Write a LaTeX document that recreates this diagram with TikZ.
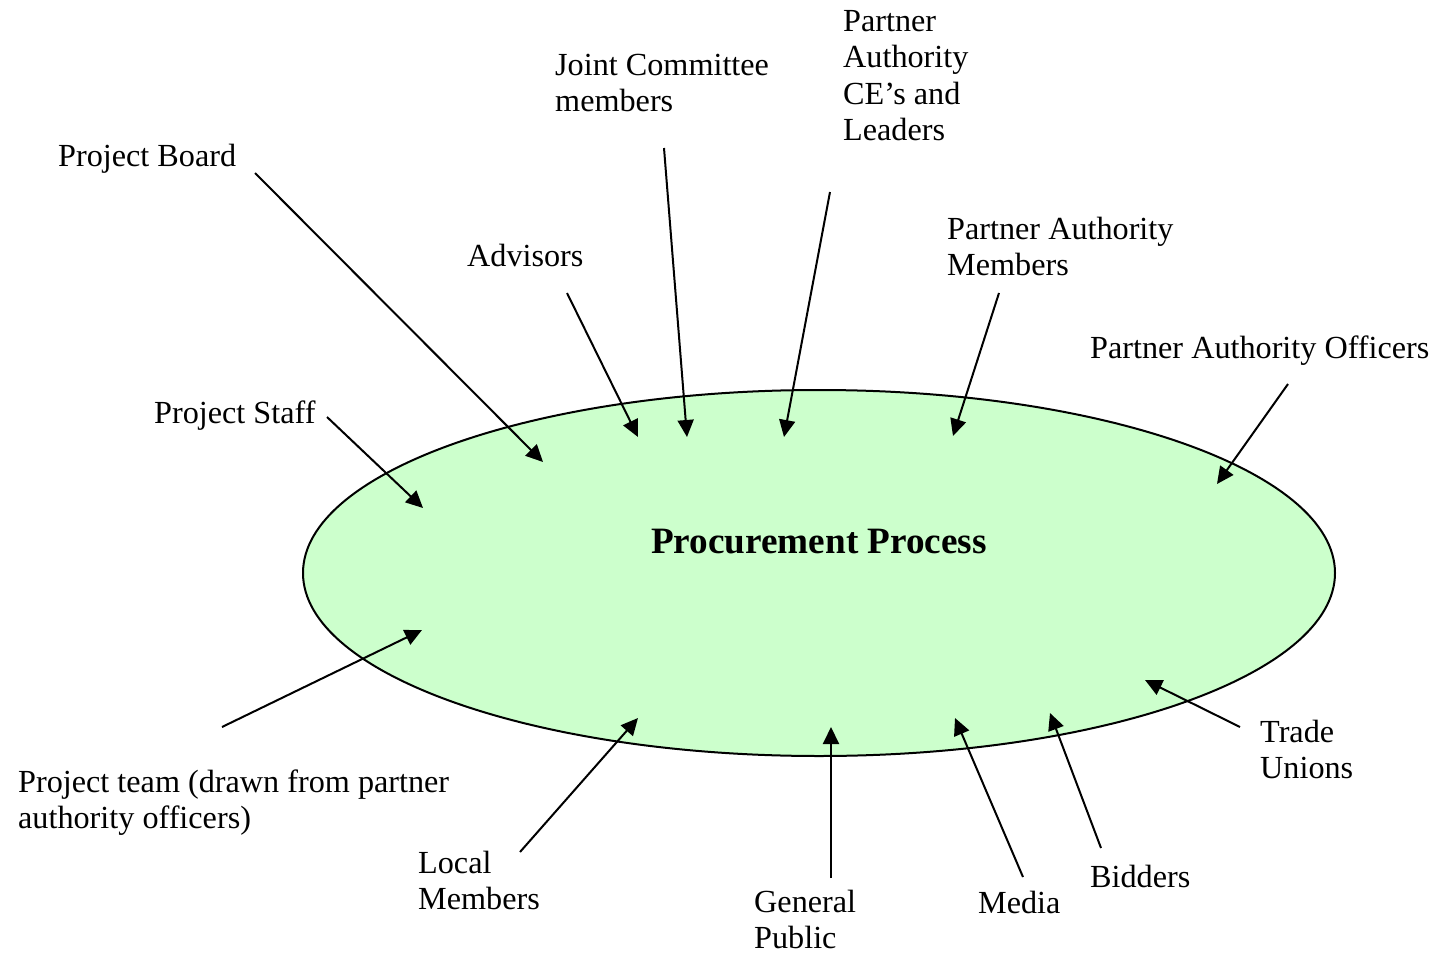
\documentclass[tikz,border=0pt]{standalone}
\usepackage{fontspec}
\setmainfont{Liberation Serif}
\usetikzlibrary{arrows.meta,shapes.geometric}
\definecolor{procgreen}{HTML}{CCFFCC}
\newcommand\mylines[1]{\begin{tabular}[t]{@{}l@{}}#1\end{tabular}}
\begin{document}
\begin{tikzpicture}[x=1pt,y=-1pt,
  lbl/.style={anchor=base west,inner sep=0pt,font=\fontsize{32.2}{36.5}\selectfont},
  arr/.style={line width=2pt,-{Triangle[length=17pt,width=16pt]}}]
\useasboundingbox (0,0) rectangle (1441,953);
\node[draw=black,line width=2pt,fill=procgreen,ellipse,minimum width=1032pt,minimum height=366pt,inner sep=0pt] (proc) at (819,573) {};
\node[anchor=center,inner sep=0pt,font=\fontsize{37.2}{42}\selectfont\bfseries] (proct) at (819,542) {Procurement Process};
% labels
\node[lbl] (board) at (58,166) {Project Board};
\node[lbl] (joint) at (555,75) {\mylines{Joint Committee\\members}};
\node[lbl] (ce) at (843,31) {\mylines{Partner\\Authority\\CE’s and\\Leaders}};
\node[lbl] (adv) at (467,266) {Advisors};
\node[lbl] (pam) at (947,239) {\mylines{Partner Authority\\Members}};
\node[lbl] (pao) at (1090,358) {Partner Authority Officers};
\node[lbl] (staff) at (154,423) {Project Staff};
\node[lbl] (team) at (18,792) {\mylines{Project team (drawn from partner\\authority officers)}};
\node[lbl] (local) at (418,873) {\mylines{Local\\Members}};
\node[lbl] (gen) at (754,912) {\mylines{General\\Public}};
\node[lbl] (media) at (978,913) {Media};
\node[lbl] (bid) at (1090,887) {Bidders};
\node[lbl] (trade) at (1260,742) {\mylines{Trade\\Unions}};
% arrow ends
\coordinate (s1) at (255,173); \coordinate (e1) at (543,462);
\coordinate (s2) at (567,293); \coordinate (e2) at (638,437);
\coordinate (s3) at (664,148); \coordinate (e3) at (687,437);
\coordinate (s4) at (830,192); \coordinate (e4) at (784,437);
\coordinate (s5) at (999,293); \coordinate (e5) at (953,436);
\coordinate (s6) at (1288,384); \coordinate (e6) at (1217,484);
\coordinate (s7) at (327,417); \coordinate (e7) at (423,508);
\coordinate (s8) at (222,727); \coordinate (e8) at (422,630);
\coordinate (s9) at (520,852); \coordinate (e9) at (638,718);
\coordinate (s10) at (831,878); \coordinate (e10) at (831,727);
\coordinate (s11) at (1023,877); \coordinate (e11) at (955,718);
\coordinate (s12) at (1101,848); \coordinate (e12) at (1050,713);
\coordinate (s13) at (1240,727); \coordinate (e13) at (1145,680);
\foreach \i in {1,...,13} { \draw[arr] (s\i) -- (e\i); }
\end{tikzpicture}
\end{document}
